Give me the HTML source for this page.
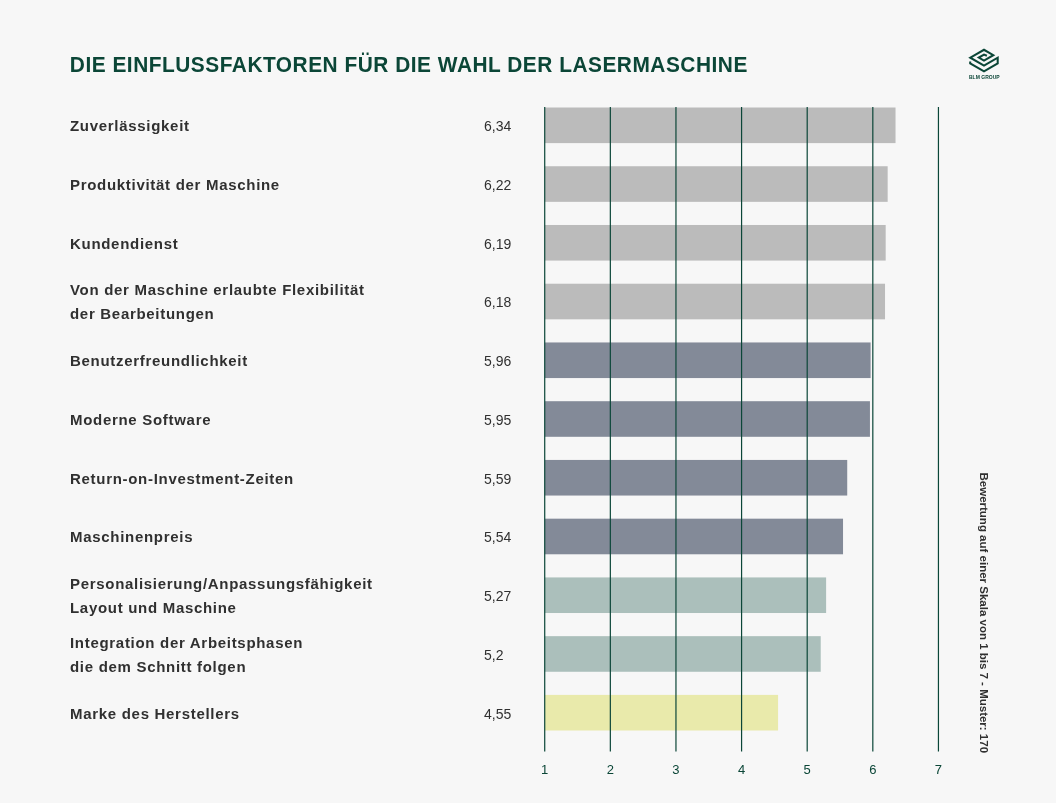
<!DOCTYPE html>
<html><head><meta charset="utf-8">
<style>
html,body{margin:0;padding:0;}
body{width:1056px;height:803px;background:#f7f7f7;overflow:hidden;font-family:"Liberation Sans",sans-serif;}
svg{position:absolute;left:0;top:0;will-change:transform;}
text{font-family:"Liberation Sans",sans-serif;}
.title{font-size:22px;font-weight:bold;fill:#0b4637;letter-spacing:0.53px;}
.lab{font-size:15px;font-weight:bold;fill:#303030;letter-spacing:0.7px;}
.val{font-size:14px;fill:#303030;}
.ax{font-size:13px;fill:#0b4637;}
.rot{font-size:11.5px;font-weight:bold;fill:#303030;}
</style></head><body>
<svg width="1056" height="803" viewBox="0 0 1056 803">
<text class="title" transform="translate(69.8 72) scale(0.95 1)" x="0" y="0">DIE EINFLUSSFAKTOREN FÜR DIE WAHL DER LASERMASCHINE</text>
<rect x="544.72" y="107.50" width="350.81" height="35.6" fill="#bbbbbb"/>
<rect x="544.72" y="166.24" width="342.94" height="35.6" fill="#bbbbbb"/>
<rect x="544.72" y="224.98" width="340.97" height="35.6" fill="#bbbbbb"/>
<rect x="544.72" y="283.72" width="340.31" height="35.6" fill="#bbbbbb"/>
<rect x="544.72" y="342.46" width="325.88" height="35.6" fill="#838a98"/>
<rect x="544.72" y="401.20" width="325.22" height="35.6" fill="#838a98"/>
<rect x="544.72" y="459.94" width="302.50" height="35.6" fill="#838a98"/>
<rect x="544.72" y="518.68" width="298.31" height="35.6" fill="#838a98"/>
<rect x="544.72" y="577.42" width="281.40" height="35.6" fill="#abbfbb"/>
<rect x="544.72" y="636.16" width="276.00" height="35.6" fill="#abbfbb"/>
<rect x="544.72" y="694.90" width="233.35" height="35.6" fill="#e9eaab"/>
<line x1="544.72" y1="107.1" x2="544.72" y2="751.5" stroke="#0b4638" stroke-width="1.2"/>
<text class="ax" x="544.72" y="774" text-anchor="middle">1</text>
<line x1="610.34" y1="107.1" x2="610.34" y2="751.5" stroke="#0b4638" stroke-width="1.2"/>
<text class="ax" x="610.34" y="774" text-anchor="middle">2</text>
<line x1="675.96" y1="107.1" x2="675.96" y2="751.5" stroke="#0b4638" stroke-width="1.2"/>
<text class="ax" x="675.96" y="774" text-anchor="middle">3</text>
<line x1="741.58" y1="107.1" x2="741.58" y2="751.5" stroke="#0b4638" stroke-width="1.2"/>
<text class="ax" x="741.58" y="774" text-anchor="middle">4</text>
<line x1="807.20" y1="107.1" x2="807.20" y2="751.5" stroke="#0b4638" stroke-width="1.2"/>
<text class="ax" x="807.20" y="774" text-anchor="middle">5</text>
<line x1="872.82" y1="107.1" x2="872.82" y2="751.5" stroke="#0b4638" stroke-width="1.2"/>
<text class="ax" x="872.82" y="774" text-anchor="middle">6</text>
<line x1="938.44" y1="107.1" x2="938.44" y2="751.5" stroke="#0b4638" stroke-width="1.2"/>
<text class="ax" x="938.44" y="774" text-anchor="middle">7</text>
<text class="lab" x="70" y="131.15">Zuverlässigkeit</text>
<text class="val" x="484" y="131.20">6,34</text>
<text class="lab" x="70" y="189.89">Produktivität der Maschine</text>
<text class="val" x="484" y="189.94">6,22</text>
<text class="lab" x="70" y="248.63">Kundendienst</text>
<text class="val" x="484" y="248.68">6,19</text>
<text class="lab" x="70" y="295.32">Von der Maschine erlaubte Flexibilität</text>
<text class="lab" x="70" y="319.42">der Bearbeitungen</text>
<text class="val" x="484" y="307.42">6,18</text>
<text class="lab" x="70" y="366.11">Benutzerfreundlichkeit</text>
<text class="val" x="484" y="366.16">5,96</text>
<text class="lab" x="70" y="424.85">Moderne Software</text>
<text class="val" x="484" y="424.90">5,95</text>
<text class="lab" x="70" y="483.59">Return-on-Investment-Zeiten</text>
<text class="val" x="484" y="483.64">5,59</text>
<text class="lab" x="70" y="542.33">Maschinenpreis</text>
<text class="val" x="484" y="542.38">5,54</text>
<text class="lab" x="70" y="589.02">Personalisierung/Anpassungsfähigkeit</text>
<text class="lab" x="70" y="613.12">Layout und Maschine</text>
<text class="val" x="484" y="601.12">5,27</text>
<text class="lab" x="70" y="647.76">Integration der Arbeitsphasen</text>
<text class="lab" x="70" y="671.86">die dem Schnitt folgen</text>
<text class="val" x="484" y="659.86">5,2</text>
<text class="lab" x="70" y="718.55">Marke des Herstellers</text>
<text class="val" x="484" y="718.60">4,55</text>
<text class="rot" transform="translate(979.6 472.5) rotate(90)" x="0" y="0">Bewertung auf einer Skala von 1 bis 7 - Muster: 170</text>
<path d="M986.9 55.8 L984 54.6 L978.8 57.6 L984 60.6 L993.3 55.2 L984 49.8 L970.3 57.7 L984 65.6 L997.7 57.7 L997.7 63.5 L984 71.4 L970.2 63.5 L970.2 61.5" fill="none" stroke="#0b4637" stroke-width="2.05" stroke-linejoin="miter" stroke-miterlimit="2.2"/>
<text x="969" y="79" font-size="5.6" font-weight="bold" fill="#0b4637" textLength="30.6" lengthAdjust="spacingAndGlyphs" style="font-family:'Liberation Sans',sans-serif">BLM GROUP</text>
</svg>
</body></html>
